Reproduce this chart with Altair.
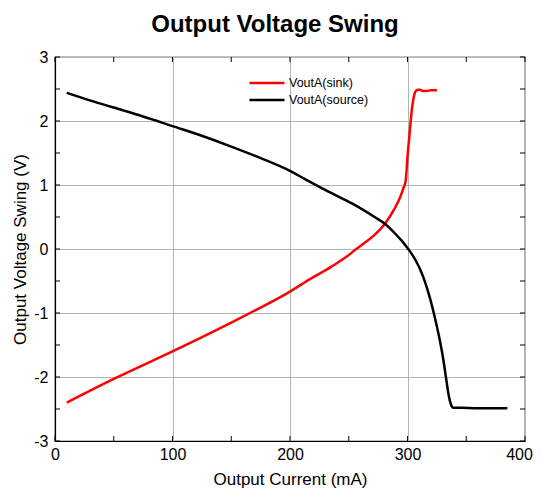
import altair as alt
import pandas as pd

# ---- data ----
sink_x = [10, 50, 100, 150, 166, 200, 217, 235, 251, 255, 263, 272, 281, 289, 294, 296.5, 298.5,
          300, 302, 304, 306.5, 308.5, 310.5, 313, 316, 320, 323, 325]
sink_y = [-2.40, -2.03, -1.60, -1.15, -1.00, -0.665, -0.47, -0.28, -0.08, -0.02, 0.09, 0.22, 0.40,
          0.63, 0.82, 0.95, 1.07, 1.44, 1.85, 2.22, 2.45, 2.49, 2.49, 2.47, 2.47, 2.48, 2.48, 2.48]

source_x = [10, 25, 50, 75, 100, 125, 150, 175, 200, 212, 225, 240, 255, 272, 281, 289,
            295, 299, 303, 307, 311, 315, 319, 323, 327, 330.5, 333, 335, 337, 339, 345, 360, 385]
source_y = [2.44, 2.35, 2.21, 2.07, 1.92, 1.77, 1.60, 1.42, 1.22, 1.10, 0.97, 0.83, 0.69,
            0.50, 0.39, 0.25, 0.13, 0.04, -0.06, -0.18, -0.33, -0.52, -0.76, -1.05, -1.38, -1.73,
            -2.04, -2.28, -2.43, -2.48, -2.48, -2.49, -2.49]

series_names = ["VoutA(sink)", "VoutA(source)"]
series_colors = ["#ff0000", "#000000"]

x_major = [0, 100, 200, 300, 400]
y_major = [-3, -2, -1, 0, 1, 2, 3]
x_minor = [0, 50, 100, 150, 200, 250, 300, 350, 400]
y_minor = [-3, -2.5, -2, -1.5, -1, -0.5, 0, 0.5, 1, 1.5, 2, 2.5, 3]

# ---- tables ----
df = pd.concat([
    pd.DataFrame({"x": sink_x, "y": sink_y, "series": series_names[0], "order": range(len(sink_x))}),
    pd.DataFrame({"x": source_x, "y": source_y, "series": series_names[1], "order": range(len(source_x))}),
], ignore_index=True)
xt = pd.DataFrame({"x": x_minor})
yt = pd.DataFrame({"y": y_minor})

W, H = 470, 384
FONT = "Liberation Sans"

common = dict(grid=True, labelExpr="'' + datum.value", tickSize=0,
              labelFlush=False, labelOverlap=False,
              gridColor="#b4b4b4", gridWidth=1, gridOpacity=1,
              domainColor="#000000", domainWidth=1.2,
              labelFont=FONT, labelFontSize=16, labelColor="#000000",
              titleFont=FONT, titleFontSize=17, titleFontWeight="normal", titleColor="#000000")

xscale = alt.Scale(domain=[0, 400], nice=False)
yscale = alt.Scale(domain=[-3, 3], nice=False)
xaxis = alt.Axis(values=x_major, title="Output Current (mA)", labelPadding=5, titlePadding=9,
                 labelOffset={"condition": {"test": "datum.value === 400", "value": -6}, "value": 0},
                 **common)
yaxis = alt.Axis(values=y_major, title="Output Voltage Swing (V)", labelPadding=7, titlePadding=4, **common)

lines = alt.Chart(df).mark_line(strokeWidth=2.5, interpolate="monotone").encode(
    x=alt.X("x:Q", scale=xscale, axis=xaxis),
    y=alt.Y("y:Q", scale=yscale, axis=yaxis),
    color=alt.Color("series:N",
                    scale=alt.Scale(domain=series_names, range=series_colors),
                    legend=alt.Legend(title=None, orient="none", legendX=193, legendY=19,
                                      symbolType="stroke", symbolSize=1225, symbolStrokeWidth=2.5,
                                      labelFontSize=12.5, labelFont=FONT, labelColor="#000000",
                                      clipHeight=14, rowPadding=3, labelOffset=3)),
    order="order:Q",
)

tick_color = "#000000"
xb = alt.Chart(xt).mark_rule(color=tick_color, strokeWidth=1).encode(
    x=alt.X("x:Q", scale=xscale, axis=xaxis), y=alt.value(H), y2=alt.value(H - 5))
xtp = alt.Chart(xt).mark_rule(color=tick_color, strokeWidth=1).encode(
    x=alt.X("x:Q", scale=xscale, axis=xaxis), y=alt.value(0), y2=alt.value(5))
yl = alt.Chart(yt).mark_rule(color=tick_color, strokeWidth=1).encode(
    y=alt.Y("y:Q", scale=yscale, axis=yaxis), x=alt.value(0), x2=alt.value(5))
yr = alt.Chart(yt).mark_rule(color=tick_color, strokeWidth=1).encode(
    y=alt.Y("y:Q", scale=yscale, axis=yaxis), x=alt.value(W - 5), x2=alt.value(W))

chart = alt.layer(lines, xb, xtp, yl, yr).properties(
    width=W, height=H,
    background="white",
    autosize=alt.AutoSizeParams(type="none"),
    padding={"left": 47, "top": 49, "right": 8, "bottom": 48},
    title=alt.TitleParams("Output Voltage Swing", fontSize=24, fontWeight="bold", font=FONT,
                          color="#000000", anchor="middle", dx=-15, offset=12),
).configure_view(stroke="#000000", strokeWidth=1.2)

chart.save("out.html", embed_options={"renderer": "svg", "actions": False})
